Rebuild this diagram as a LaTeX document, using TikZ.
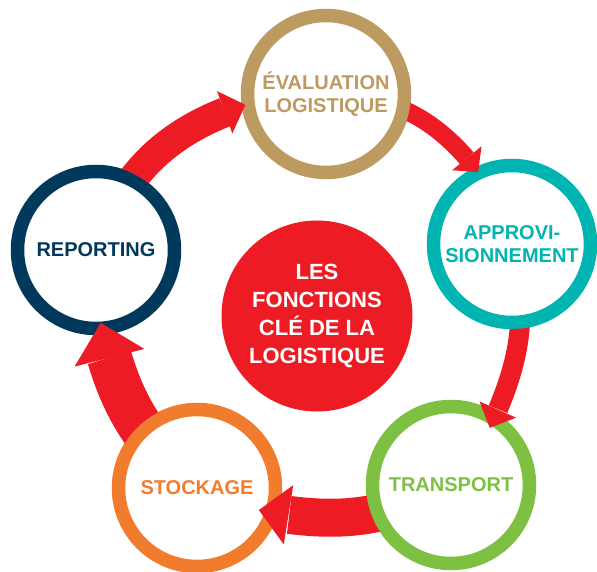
\documentclass[tikz,border=0pt]{standalone}
\usepackage{fontspec}
\setmainfont{Liberation Sans}
\usetikzlibrary{arrows.meta,bending}
\definecolor{rouge}{RGB}{237,28,36}
\definecolor{ocre}{RGB}{189,154,96}
\definecolor{turquoise}{RGB}{0,181,177}
\definecolor{vert}{RGB}{126,192,66}
\definecolor{orangec}{RGB}{241,124,46}
\definecolor{marine}{RGB}{0,57,92}

\begin{document}
\begin{tikzpicture}[x=1pt, y=1pt,
  etape/.style={circle, draw=#1, text=#1, fill=white, line width=13.5pt, minimum size=157pt, inner sep=0pt, align=center, font=\bfseries\fontsize{20}{22.5}\selectfont},
  fleche/.style={draw=rouge, line width=#1}]
\useasboundingbox (0,0) rectangle (597,571);
% Cercle central
\node[circle, fill=rouge, minimum size=191pt, inner sep=0pt, text=white, align=center, font=\bfseries\fontsize{22}{28}\selectfont] (centre) at (317,255) {LES\\FONCTIONS\\CLÉ DE LA\\LOGISTIQUE};

% Les cinq étapes
\node[etape=ocre] (eva) at (326,477) {ÉVALUATION\\LOGISTIQUE};
\node[etape=turquoise] (app) at (512,327) {APPROVI-\\SIONNEMENT};
\node[etape=vert] (tra) at (451,86) {TRANSPORT};
\node[etape=orangec] (sto) at (197,83) {STOCKAGE};
\node[etape=marine] (rep) at (96,321) {REPORTING};

% Flèches entre les étapes (queue cachée sous le cercle de départ)
\foreach \src/\dst/\lw/\hl/\hw/\bd/\ex in {rep/eva/30/22/45/26/4, eva/app/18/18/38/25/6, app/tra/20/20/40/18/16, tra/sto/38/30/60/18/19, sto/rep/45/36/72/18/12} {
  \begin{scope}[even odd rule]
    \clip (0,0) -- (0,571) -- (597,571) -- (597,0) -- cycle (\src.center) circle[radius=85];
    \draw[fleche=\lw pt, -{Triangle[length=\hl pt, width=\hw pt, line width=0pt]}, shorten >=-\ex pt] (\src.center) to[bend left=\bd] (\dst);
  \end{scope}
}
\end{tikzpicture}
\end{document}
